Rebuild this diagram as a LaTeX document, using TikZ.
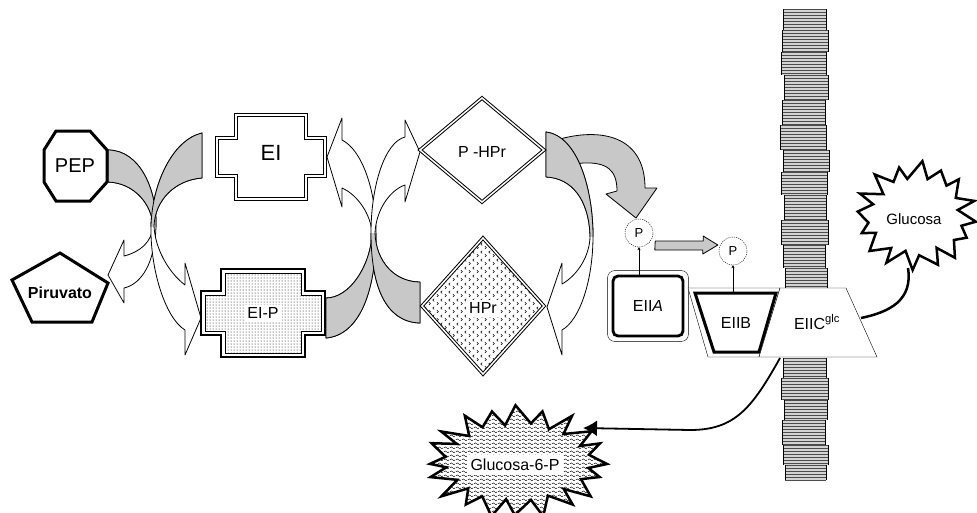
\documentclass[tikz,border=0pt]{standalone}
\usepackage{fontspec}
\setmainfont{Liberation Sans}
\usetikzlibrary{arrows.meta, positioning, calc, shapes.geometric, patterns}
\usepackage{xcolor}
\definecolor{bandgrey}{RGB}{200,200,200}
\definecolor{wallgrey}{RGB}{175,175,175}

% small fill patterns
\pgfdeclarepatternformonly{waves}{\pgfpointorigin}{\pgfpoint{6pt}{4pt}}{\pgfpoint{6pt}{4pt}}{
  \pgfsetlinewidth{0.5pt}
  \pgfpathmoveto{\pgfpoint{0pt}{1.5pt}}
  \pgfpathcurveto{\pgfpoint{1pt}{3pt}}{\pgfpoint{2pt}{3pt}}{\pgfpoint{3pt}{1.5pt}}
  \pgfpathcurveto{\pgfpoint{4pt}{0pt}}{\pgfpoint{5pt}{0pt}}{\pgfpoint{6pt}{1.5pt}}
  \pgfusepath{stroke}}
\pgfdeclarepatternformonly{chevrons}{\pgfpointorigin}{\pgfpoint{8pt}{8pt}}{\pgfpoint{8pt}{8pt}}{
  \pgfsetlinewidth{0.6pt}
  \pgfpathmoveto{\pgfpoint{2.5pt}{7pt}}\pgfpathlineto{\pgfpoint{0.8pt}{5.5pt}}\pgfpathlineto{\pgfpoint{2.5pt}{4pt}}
  \pgfpathmoveto{\pgfpoint{5.5pt}{3pt}}\pgfpathlineto{\pgfpoint{7.2pt}{1.5pt}}\pgfpathlineto{\pgfpoint{5.5pt}{0pt}}
  \pgfusepath{stroke}}

% outlines of the curved block arrows
\newcommand{\pathPEP}{(108,150) .. controls (140,150) and (157,190) .. (156,226) .. controls (155,262) and (142,284) .. (124,288) -- (124,303) -- (108,275) -- (124,240) -- (124,256) .. controls (140,252) and (152,242) .. (153,226) .. controls (152,205) and (135,183) .. (108,182) -- cycle}
\newcommand{\pathEI}{(202,133) .. controls (172,140) and (152,185) .. (151,226) .. controls (150,268) and (165,318) .. (185,330) -- (185,355) -- (201,318) -- (185,263) -- (185,285) .. controls (168,272) and (155,248) .. (154,226) .. controls (155,200) and (175,180) .. (202,178) -- cycle}
\newcommand{\pathEIP}{(326,338) .. controls (360,335) and (376,290) .. (376,233) .. controls (376,190) and (362,150) .. (342,140) -- (342,118) -- (327,157) -- (342,207) -- (342,188) .. controls (358,195) and (371,215) .. (372,233) .. controls (371,265) and (350,298) .. (326,298) -- cycle}
\newcommand{\pathHPr}{(420,323) .. controls (385,322) and (371,285) .. (371,233) .. controls (371,185) and (385,142) .. (405,137) -- (405,120) -- (420,152) -- (405,202) -- (405,185) .. controls (390,190) and (376,210) .. (375,233) .. controls (376,262) and (395,282) .. (420,282) -- cycle}
\newcommand{\pathPHPr}{(546,132) .. controls (578,136) and (593,190) .. (593,236) .. controls (593,280) and (580,320) .. (562,330) -- (562,355) -- (547,307) -- (562,263) -- (562,284) .. controls (578,275) and (590,255) .. (590,236) .. controls (589,200) and (572,178) .. (546,177) -- cycle}
\newcommand{\pathTrans}{(560,139) .. controls (600,128) and (645,135) .. (645,188) -- (657,188) -- (636,218) -- (606,194) -- (617,191) .. controls (617,170) and (607,162) .. (583,163) -- (560,166) -- cycle}

\tikzset{
  lbl/.style={font=\fontsize{16}{18}\selectfont, inner sep=1pt},
  bigarrow/.style={draw=black, fill=white, line width=0.8pt, line join=round},
  greyarrow/.style={draw=black, fill=bandgrey, line width=0.8pt, line join=round},
  dbl/.style={draw, double, double distance=1.5pt, line width=1pt},
  phos/.style={circle, draw, dash pattern=on 1.2pt off 1pt, minimum size=28pt, inner sep=0pt, fill=white, font=\fontsize{13}{14}\selectfont},
  spiky/.style={draw=black, line width=2.5pt, line join=miter, miter limit=4},
  pics/crossbox/.style n args={4}{code={
    \path[pic actions] (-#3,-#2) -- (#3,-#2) -- (#3,-#4) -- (#1,-#4) -- (#1,#4) -- (#3,#4) -- (#3,#2) -- (-#3,#2) -- (-#3,#4) -- (-#1,#4) -- (-#1,-#4) -- (-#3,-#4) -- cycle;
  }}
}

\begin{document}
\begin{tikzpicture}[x=1pt, y=-1pt]
  \useasboundingbox (0,0) rectangle (977,512);
  \fill[white] (0,0) rectangle (977,512);

  % membrane
  \foreach \ya/\yb/\xl/\xr in {9/30/783/826, 30/52/782/828, 52/75/781/826, 75/100/784/828, 100/125/782/825, 125/150/780/826, 150/172/783/829, 172/195/781/827, 195/220/784/826, 220/245/781/828, 245/268/783/825, 268/288/785/827, 358/378/783/826, 378/400/781/828, 400/420/784/827, 420/445/782/825, 445/465/783/828, 465/480/785/826} {
    \fill[wallgrey!55] (\xl,\ya) rectangle (\xr,\yb);
    \pgfmathsetmacro\ynext{\ya+3}
    \foreach \yy in {\ya,\ynext,...,\yb}
      \draw[black!70, line width=0.8pt] (\xl,\yy) -- (\xr,\yy);
    \draw[thin] (\xl,\ya) -- (\xl,\yb) (\xr,\ya) -- (\xr,\yb);
  }

  % curved block arrows, grey half first
  \path[bigarrow] \pathPEP;
  \path[bigarrow] \pathEI;
  \begin{scope}
    \clip (0,0) rectangle (300,226);
    \path[greyarrow] \pathPEP;
    \path[greyarrow] \pathEI;
  \end{scope}
  \path[bigarrow] \pathEIP;
  \path[bigarrow] \pathHPr;
  \begin{scope}
    \clip (300,233) rectangle (430,400);
    \path[greyarrow] \pathEIP;
    \path[greyarrow] \pathHPr;
  \end{scope}
  \path[greyarrow] \pathTrans;
  \path[bigarrow] \pathPHPr;
  \begin{scope}
    \clip (540,100) rectangle (600,236);
    \path[greyarrow] \pathPHPr;
  \end{scope}

  % PEP and Piruvato
  \draw[line width=3pt, fill=white] (56,131) -- (90,131) -- (107,150) -- (107,182) -- (90,201) -- (56,201) -- (44,182) -- (44,150) -- cycle;
  \node[lbl, font=\fontsize{20}{22}\selectfont] (pep) at (75,166) {PEP};
  \draw[line width=3pt, fill=white] (60,253) -- (108,283) -- (92,322) -- (32,322) -- (12,280) -- cycle;
  \node[lbl, font=\fontsize{16}{18}\selectfont\bfseries] (pir) at (60,293) {Piruvato};

  % EI and EI-P
  \pic[dbl, fill=white] at (271,157) {crossbox={54}{42}{35}{19}};
  \node[lbl, font=\fontsize{22}{24}\selectfont] (ei) at (271,153) {EI};
  \pic[draw, line width=2.5pt, fill=white] at (263,313) {crossbox={62}{44}{42}{22}};
  \pic[draw, line width=0.8pt, pattern=dots] at (263,313) {crossbox={58}{40}{38}{18}};
  \node[lbl, fill=white, inner sep=3pt] (eip) at (263,313) {EI-P};

  % P-HPr and HPr
  \draw[dbl, fill=white] (420,150) -- (482,98) -- (544,150) -- (482,202) -- cycle;
  \node[lbl] (phpr) at (482,152) {P -HPr};
  \draw[dbl, pattern=chevrons] (422,306) -- (483,238) -- (544,306) -- (483,374) -- cycle;
  \node[lbl, fill=white, inner sep=3pt] (hpr) at (483,308) {HPr};

  % EIIA, EIIB, EIIC
  \node[lbl, draw, line width=2.8pt, rounded corners=5pt, minimum width=70, minimum height=60] (eiia) at (648,306) {EII\textit{A}};
  \draw[rounded corners=7pt] ([xshift=-4pt, yshift=-4pt]eiia.south west) rectangle ([xshift=4pt, yshift=4pt]eiia.north east);
  \draw[fill=white] (688,288) -- (780,288) -- (759,357) -- (708,357) -- cycle;
  \draw[line width=3pt, line join=miter] (695,293) -- (776,293) -- (759,352) -- (714,352) -- cycle;
  \node[lbl, minimum width=80, minimum height=59] (eiib) at (736,322.5) {EIIB};
  \draw[fill=white] (780,288) -- (846,288) -- (877,357) -- (759,357) -- cycle;
  \node[lbl] (eiic) at (817,322) {EIIC\textsuperscript{glc}};
  \coordinate (eiicside) at (861,318);
  \coordinate (eiicfoot) at (780,358);

  % phosphate groups
  \node[phos] (pa) at (639,233) {P};
  \node[phos] (pb) at (733,251) {P};
  \draw[-{Stealth[length=3pt, width=3pt]}] (pa.south |- eiia.north) -- (pa.south);
  \draw[-{Stealth[length=3pt, width=3pt]}] (pb.south |- eiib.north) -- (pb.south);
  \draw[greyarrow] ($(pa.east)+(2,8)$) -- ++(48,0) -- ++(0,-5) -- ($(pb.west)+(-1,-6)$) -- ++(-15,9) -- ++(0,-4) -- ++(-48,0) -- cycle;

  % Glucosa outside
  \draw[spiky, fill=white] plot[samples at={0,...,31}] ({916+((mod(\x,2)==0) ? 60 : 45)*cos(\x*11.25+4)+3*sin(\x*137)}, {216+((mod(\x,2)==0) ? 53 : 38)*sin(\x*11.25+4)+2*cos(\x*97)}) -- cycle;
  \node[lbl, font=\fontsize{15}{17}\selectfont] (glc) at (914,219) {Glucosa};
  \coordinate (glcfoot) at (908,268);
  \draw[line width=2.5pt] (eiicside) .. controls (890,312) and (913,300) .. (glcfoot);

  % Glucosa-6-P inside
  \draw[spiky, pattern=waves] plot[samples at={0,...,39}] ({517+((mod(\x,2)==0) ? 90 : 70)*cos(\x*9)+3*sin(\x*131)}, {462+((mod(\x,2)==0) ? 55 : 38)*sin(\x*9)+2*cos(\x*89)}) -- cycle;
  \node[lbl, fill=white, inner sep=4pt] (g6p) at (515,465) {Glucosa-6-P};
  \coordinate (g6ptip) at (583,428);
  \draw[line width=1.8pt, -{Latex[length=14pt, width=16pt]}] (eiicfoot) .. controls (752,408) and (735,430) .. (690,430) -- (g6ptip);
\end{tikzpicture}
\end{document}
